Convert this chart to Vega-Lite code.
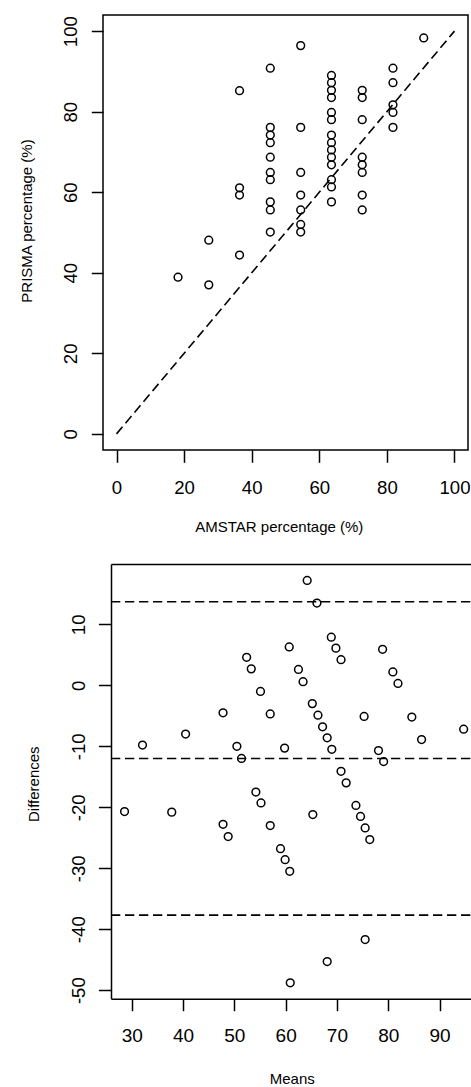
{
  "$schema": "https://vega.github.io/schema/vega-lite/v6.json",
  "padding": {"left": 18, "top": 14, "right": 0, "bottom": 0},
  "background": "white",
  "spacing": 29,
  "config": {
    "view": {"stroke": null},
    "font": "Liberation Sans",
    "axis": {
      "grid": false,
      "domainColor": "black",
      "domainWidth": 1.5,
      "tickColor": "black",
      "tickWidth": 1.5,
      "labelColor": "black",
      "titleColor": "black",
      "labelFont": "Liberation Sans",
      "titleFont": "Liberation Sans",
      "labelFontSize": 18.6,
      "titleFontSize": 15,
      "titleFontWeight": "normal",
      "labelFlush": false,
      "labelOverlap": false
    }
  },
  "datasets": {
    "diag": [{"amstar": 0, "prisma": 0}, {"amstar": 100, "prisma": 100}],
    "scatter": [
      {"amstar": 18.2, "prisma": 38.9},
      {"amstar": 27.3, "prisma": 48.1},
      {"amstar": 27.3, "prisma": 37.0},
      {"amstar": 36.4, "prisma": 85.2},
      {"amstar": 36.4, "prisma": 61.1},
      {"amstar": 36.4, "prisma": 59.3},
      {"amstar": 36.4, "prisma": 44.4},
      {"amstar": 45.5, "prisma": 90.8},
      {"amstar": 45.5, "prisma": 76.1},
      {"amstar": 45.5, "prisma": 74.2},
      {"amstar": 45.5, "prisma": 72.3},
      {"amstar": 45.5, "prisma": 68.7},
      {"amstar": 45.5, "prisma": 64.9},
      {"amstar": 45.5, "prisma": 63.1},
      {"amstar": 45.5, "prisma": 57.6},
      {"amstar": 45.5, "prisma": 55.6},
      {"amstar": 45.5, "prisma": 50.1},
      {"amstar": 54.5, "prisma": 96.4},
      {"amstar": 54.5, "prisma": 76.1},
      {"amstar": 54.5, "prisma": 64.9},
      {"amstar": 54.5, "prisma": 59.3},
      {"amstar": 54.5, "prisma": 55.6},
      {"amstar": 54.5, "prisma": 52.0},
      {"amstar": 54.5, "prisma": 50.1},
      {"amstar": 63.6, "prisma": 89.0},
      {"amstar": 63.6, "prisma": 87.2},
      {"amstar": 63.6, "prisma": 85.3},
      {"amstar": 63.6, "prisma": 83.5},
      {"amstar": 63.6, "prisma": 79.8},
      {"amstar": 63.6, "prisma": 78.0},
      {"amstar": 63.6, "prisma": 74.2},
      {"amstar": 63.6, "prisma": 72.3},
      {"amstar": 63.6, "prisma": 70.5},
      {"amstar": 63.6, "prisma": 68.7},
      {"amstar": 63.6, "prisma": 66.8},
      {"amstar": 63.6, "prisma": 63.1},
      {"amstar": 63.6, "prisma": 61.3},
      {"amstar": 63.6, "prisma": 57.6},
      {"amstar": 72.7, "prisma": 85.3},
      {"amstar": 72.7, "prisma": 83.5},
      {"amstar": 72.7, "prisma": 78.0},
      {"amstar": 72.7, "prisma": 68.7},
      {"amstar": 72.7, "prisma": 66.8},
      {"amstar": 72.7, "prisma": 64.9},
      {"amstar": 72.7, "prisma": 59.3},
      {"amstar": 72.7, "prisma": 55.6},
      {"amstar": 81.8, "prisma": 90.8},
      {"amstar": 81.8, "prisma": 87.2},
      {"amstar": 81.8, "prisma": 81.7},
      {"amstar": 81.8, "prisma": 79.8},
      {"amstar": 81.8, "prisma": 76.1},
      {"amstar": 90.9, "prisma": 98.3}
    ],
    "ba": [
      {"mean": 64.2, "diff": 17.2},
      {"mean": 66.1, "diff": 13.5},
      {"mean": 68.9, "diff": 7.9},
      {"mean": 69.8, "diff": 6.1},
      {"mean": 70.8, "diff": 4.2},
      {"mean": 60.7, "diff": 6.3},
      {"mean": 78.9, "diff": 5.9},
      {"mean": 52.4, "diff": 4.6},
      {"mean": 53.3, "diff": 2.7},
      {"mean": 62.5, "diff": 2.6},
      {"mean": 63.4, "diff": 0.6},
      {"mean": 80.9, "diff": 2.2},
      {"mean": 81.9, "diff": 0.3},
      {"mean": 55.1, "diff": -1.0},
      {"mean": 65.2, "diff": -3.0},
      {"mean": 47.8, "diff": -4.5},
      {"mean": 57.0, "diff": -4.7},
      {"mean": 66.3, "diff": -4.9},
      {"mean": 67.2, "diff": -6.8},
      {"mean": 68.1, "diff": -8.6},
      {"mean": 69.0, "diff": -10.5},
      {"mean": 75.3, "diff": -5.1},
      {"mean": 84.6, "diff": -5.2},
      {"mean": 86.5, "diff": -8.9},
      {"mean": 94.7, "diff": -7.2},
      {"mean": 40.5, "diff": -8.0},
      {"mean": 32.1, "diff": -9.8},
      {"mean": 50.5, "diff": -10.0},
      {"mean": 51.4, "diff": -12.0},
      {"mean": 59.8, "diff": -10.3},
      {"mean": 78.1, "diff": -10.7},
      {"mean": 79.1, "diff": -12.5},
      {"mean": 70.8, "diff": -14.1},
      {"mean": 71.8, "diff": -16.0},
      {"mean": 54.2, "diff": -17.5},
      {"mean": 55.2, "diff": -19.3},
      {"mean": 73.7, "diff": -19.7},
      {"mean": 28.6, "diff": -20.7},
      {"mean": 37.8, "diff": -20.8},
      {"mean": 65.3, "diff": -21.2},
      {"mean": 74.6, "diff": -21.5},
      {"mean": 47.8, "diff": -22.8},
      {"mean": 48.8, "diff": -24.8},
      {"mean": 57.0, "diff": -23.0},
      {"mean": 75.5, "diff": -23.4},
      {"mean": 76.4, "diff": -25.3},
      {"mean": 59.0, "diff": -26.8},
      {"mean": 59.9, "diff": -28.6},
      {"mean": 60.8, "diff": -30.5},
      {"mean": 75.5, "diff": -41.7},
      {"mean": 68.1, "diff": -45.3},
      {"mean": 60.9, "diff": -48.8}
    ],
    "limits": [{"diff": 13.7}, {"diff": -12.0}, {"diff": -37.7}]
  },
  "vconcat": [
    {
      "width": 365,
      "height": 435,
      "view": {"stroke": "black", "strokeWidth": 1.5},
      "encoding": {
        "x": {
          "field": "amstar",
          "type": "quantitative",
          "scale": {"domain": [-4, 104], "nice": false, "zero": false},
          "axis": {
            "title": "AMSTAR percentage (%)",
            "values": [0, 20, 40, 60, 80, 100],
            "domain": false,
            "tickSize": 12.3,
            "labelPadding": 31,
            "labelBaseline": "alphabetic",
            "titleX": 175.8,
            "titleY": 81,
            "titleAlign": "center",
            "titleBaseline": "alphabetic"
          }
        },
        "y": {
          "field": "prisma",
          "type": "quantitative",
          "scale": {"domain": [-4, 104], "nice": false, "zero": false},
          "axis": {
            "title": "PRISMA percentage (%)",
            "values": [0, 20, 40, 60, 80, 100],
            "domain": false,
            "tickSize": 11.7,
            "labelAngle": 270,
            "labelAlign": "center",
            "labelBaseline": "alphabetic",
            "labelPadding": 15,
            "titleAngle": 270,
            "titleX": -71.7,
            "titleY": 205.5,
            "titleAlign": "center",
            "titleBaseline": "alphabetic"
          }
        }
      },
      "layer": [
        {
          "data": {"name": "diag"},
          "mark": {"type": "line", "color": "black", "strokeDash": [9.3, 4.7], "strokeWidth": 1.6}
        },
        {
          "data": {"name": "scatter"},
          "mark": {"type": "point", "shape": "circle", "filled": false, "color": "black", "size": 60, "strokeWidth": 1.5, "opacity": 1}
        }
      ]
    },
    {
      "width": 368.5,
      "height": 434.7,
      "layer": [
        {
          "data": {"name": "ba"},
          "mark": {"type": "point", "shape": "circle", "filled": false, "color": "black", "size": 60, "strokeWidth": 1.5, "opacity": 1},
          "encoding": {
            "x": {
              "field": "mean",
              "type": "quantitative",
              "scale": {"domain": [25.96, 96.23], "range": [8, 368.5], "nice": false, "zero": false},
              "axis": {
                "title": "Means",
                "values": [30, 40, 50, 60, 70, 80, 90],
                "domain": true,
                "tickSize": 12,
                "labelPadding": 30.7,
                "labelBaseline": "alphabetic",
                "labelFontSize": 19,
                "titleX": 188.8,
                "titleY": 87.5,
                "titleAlign": "center",
                "titleBaseline": "bottom"
              }
            },
            "y": {
              "field": "diff",
              "type": "quantitative",
              "scale": {"domain": [-51.4, 19.9], "nice": false, "zero": false},
              "axis": {
                "title": "Differences",
                "values": [10, 0, -10, -20, -30, -40, -50],
                "labelExpr": "'' + datum.value",
                "offset": -8,
                "domain": true,
                "tickSize": 12.6,
                "labelAngle": 270,
                "labelAlign": "center",
                "labelBaseline": "alphabetic",
                "labelPadding": 13.5,
                "titleAngle": 270,
                "titleX": -73,
                "titleY": 219.7,
                "titleAlign": "center",
                "titleBaseline": "alphabetic"
              }
            }
          }
        },
        {
          "data": {"name": "limits"},
          "mark": {"type": "rule", "color": "black", "strokeDash": [9.3, 4.7], "strokeWidth": 1.6},
          "encoding": {
            "y": {"field": "diff", "type": "quantitative"},
            "x": {
              "datum": 25.96,
              "type": "quantitative",
              "axis": {"orient": "top", "labels": false, "ticks": false, "title": null, "domain": true}
            },
            "x2": {"datum": 96.23}
          }
        }
      ],
      "resolve": {"axis": {"x": "independent"}}
    }
  ]
}
